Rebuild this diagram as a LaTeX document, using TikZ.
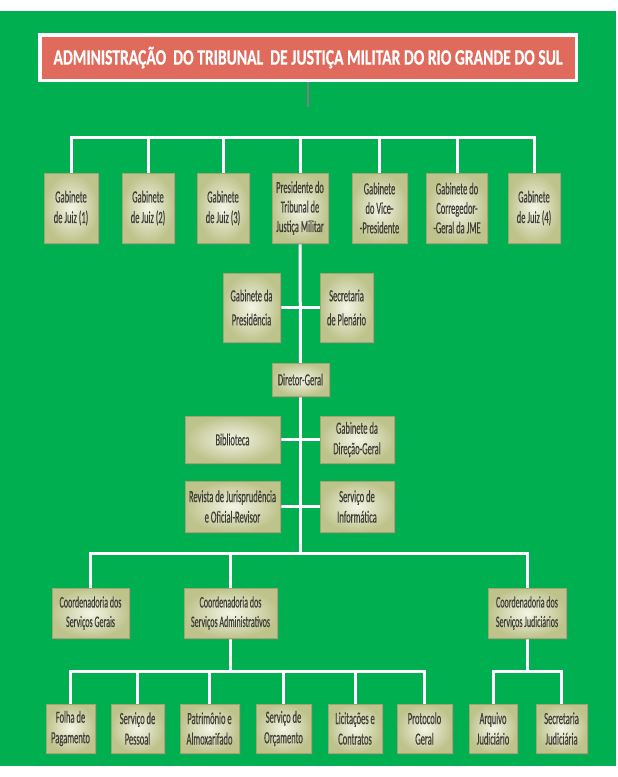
\documentclass[tikz,border=0pt]{standalone}
\usepackage{fontspec}
\usepackage{graphicx}
\usetikzlibrary{shadows}
\newfontfamily\orgfont[FakeStretch=0.5,FakeBold=0.4]{Carlito}
\newfontfamily\titlefont[FakeBold=0.6]{Carlito}
\definecolor{orggreen}{RGB}{0,176,80}
\definecolor{titlered}{RGB}{224,106,92}
\definecolor{boxmid}{RGB}{244,245,230}
\definecolor{boxedge}{RGB}{190,195,140}
\definecolor{boxline}{RGB}{160,166,112}
\definecolor{boxtext}{RGB}{62,62,56}
\pgfdeclarelayer{backdrop}
\pgfdeclarelayer{wires}
\pgfsetlayers{backdrop,wires,main}
\begin{document}
\begin{tikzpicture}[x=1pt,y=-1pt,
  unit/.style={draw=boxline,line width=0.6pt,inner color=boxmid,outer color=boxedge,
    text=boxtext,font=\orgfont\fontsize{17}{20.5}\selectfont,align=center,inner sep=1pt,
    drop shadow={shadow xshift=1.5pt,shadow yshift=-1.5pt,opacity=0.35}},
  coord/.style={unit,font=\orgfont\fontsize{16}{19.5}\selectfont},
  wire/.style={draw=white,line width=3pt,line cap=rect},
  stub/.style={draw=gray,line width=1.2pt}]
\useasboundingbox (0,0) rectangle (618,777);
\begin{pgfonlayer}{backdrop}
\fill[white] (0,0) rectangle (618,777);
\fill[orggreen] (0,11) rectangle (616,766);
\end{pgfonlayer}
\node[fill=titlered,draw=white,line width=3.5pt,minimum width=536.5pt,minimum height=45.5pt,inner sep=0pt,
  drop shadow={shadow xshift=1.5pt,shadow yshift=-2pt,opacity=0.6}] (title) at (308,57.5)
  {\resizebox{509pt}{\height}{\titlefont\fontsize{22}{22}\selectfont\bfseries\color{white}ADMINISTRAÇÃO\ \ DO TRIBUNAL\ \ DE JUSTIÇA MILITAR DO RIO GRANDE DO SUL}};
\node[unit,minimum width=54pt,minimum height=70pt] (juiz1) at (71,208) {Gabinete\\de Juiz (1)};
\node[unit,minimum width=52pt,minimum height=70pt] (juiz2) at (148,208) {Gabinete\\de Juiz (2)};
\node[unit,minimum width=52pt,minimum height=70pt] (juiz3) at (223,208) {Gabinete\\de Juiz (3)};
\node[unit,minimum width=56pt,minimum height=70pt,font=\orgfont\fontsize{17}{19.5}\selectfont] (pres) at (300,208) {Presidente do\\Tribunal de\\Justiça Militar};
\node[unit,minimum width=55pt,minimum height=70pt,font=\orgfont\fontsize{17}{19.5}\selectfont] (vice) at (379.5,208) {Gabinete\\do Vice-\\-Presidente};
\node[unit,minimum width=61pt,minimum height=70pt,font=\orgfont\fontsize{17}{19.5}\selectfont] (correg) at (457,208) {Gabinete do\\Corregedor-\\-Geral da JME};
\node[unit,minimum width=52pt,minimum height=70pt] (juiz4) at (534,208) {Gabinete\\de Juiz (4)};
\node[unit,minimum width=57pt,minimum height=69pt,font=\orgfont\fontsize{17}{24}\selectfont] (gpres) at (251.5,307.5) {Gabinete da\\Presidência};
\node[unit,minimum width=53pt,minimum height=69pt,font=\orgfont\fontsize{17}{24}\selectfont] (secpl) at (346.5,307.5) {Secretaria\\de Plenário};
\node[unit,minimum width=57pt,minimum height=33pt] (diretor) at (300.5,379.5) {Diretor-Geral};
\node[unit,minimum width=95pt,minimum height=47pt] (biblio) at (232.5,439.5) {Biblioteca};
\node[unit,minimum width=74pt,minimum height=47pt] (gabdg) at (357,439.5) {Gabinete da\\Direção-Geral};
\node[unit,minimum width=95pt,minimum height=51pt] (revista) at (232.5,506.5) {Revista de Jurisprudência\\e Oficial-Revisor};
\node[unit,minimum width=74pt,minimum height=51pt] (inform) at (357,506.5) {Serviço de\\Informática};
\node[coord,minimum width=77pt,minimum height=50pt] (cgerais) at (90.5,613) {Coordenadoria dos\\Serviços Gerais};
\node[coord,minimum width=93pt,minimum height=50pt] (cadmin) at (230.5,613) {Coordenadoria dos\\Serviços Administrativos};
\node[coord,minimum width=78pt,minimum height=50pt] (cjud) at (527,613) {Coordenadoria dos\\Serviços Judiciários};
\node[unit,minimum width=49pt,minimum height=49pt] (folha) at (70.5,728.5) {Folha de\\Pagamento};
\node[unit,minimum width=53pt,minimum height=49pt] (pessoal) at (137.5,728.5) {Serviço de\\Pessoal};
\node[unit,minimum width=59pt,minimum height=49pt] (patrim) at (209.5,728.5) {Patrimônio e\\Almoxarifado};
\node[unit,minimum width=55pt,minimum height=49pt] (orcam) at (283.5,728.5) {Serviço de\\Orçamento};
\node[unit,minimum width=54pt,minimum height=49pt] (licit) at (355,728.5) {Licitações e\\Contratos};
\node[unit,minimum width=55pt,minimum height=49pt] (protoc) at (424.5,728.5) {Protocolo\\Geral};
\node[unit,minimum width=48pt,minimum height=49pt] (arquivo) at (493,728.5) {Arquivo\\Judiciário};
\node[unit,minimum width=51pt,minimum height=49pt] (secjud) at (561.5,728.5) {Secretaria\\Judiciária};
\coordinate (tstub) at (308,107);
\coordinate (tbus) at (0,137);
\coordinate (mbus) at (0,553);
\coordinate (abus) at (0,671);
\draw[stub] (title.south) -- (tstub);
\begin{pgfonlayer}{wires}
\draw[wire] (juiz1.north |- tbus) -- (juiz4.north |- tbus);
\foreach \n in {juiz1,juiz2,juiz3,pres,vice,correg,juiz4} \draw[wire] (\n.north) -- (\n.north |- tbus);
\draw[wire] (pres.south) -- (diretor.north);
\draw[wire] (gpres.east) -- (secpl.west);
\draw[wire] (biblio.east) -- (gabdg.west);
\draw[wire] (revista.east) -- (inform.west);
\draw[wire] (diretor.south) -- (diretor.south |- mbus);
\draw[wire] (cgerais.north |- mbus) -- (cjud.north |- mbus);
\foreach \n in {cgerais,cadmin,cjud} \draw[wire] (\n.north) -- (\n.north |- mbus);
\draw[wire] (cadmin.south) -- (cadmin.south |- abus);
\draw[wire] (folha.north |- abus) -- (protoc.north |- abus);
\foreach \n in {folha,pessoal,patrim,orcam,licit,protoc} \draw[wire] (\n.north) -- (\n.north |- abus);
\draw[wire] (cjud.south) -- (cjud.south |- abus);
\draw[wire] (arquivo.north |- abus) -- (secjud.north |- abus);
\foreach \n in {arquivo,secjud} \draw[wire] (\n.north) -- (\n.north |- abus);
\end{pgfonlayer}
\end{tikzpicture}
\end{document}
